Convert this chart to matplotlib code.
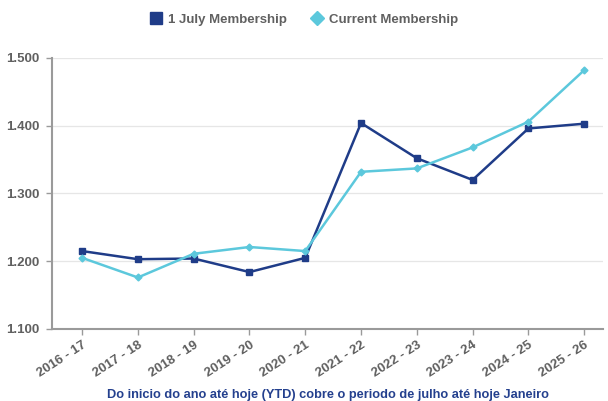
import matplotlib
matplotlib.use("Agg")
import matplotlib.pyplot as plt
from matplotlib.ticker import FuncFormatter

seasons = ["2016 - 17", "2017 - 18", "2018 - 19", "2019 - 20", "2020 - 21",
           "2021 - 22", "2022 - 23", "2023 - 24", "2024 - 25", "2025 - 26"]
july_membership = [1.215, 1.203, 1.204, 1.184, 1.205, 1.404, 1.352, 1.320, 1.396, 1.403]
current_membership = [1.205, 1.176, 1.211, 1.221, 1.215, 1.332, 1.337, 1.368, 1.406, 1.482]
y_ticks = [1.1, 1.2, 1.3, 1.4, 1.5]

plt.rcParams['font.family'] = ['Liberation Sans', 'DejaVu Sans']

navy = "#1f3c88"
cyan = "#5cc8dc"
gray_text = "#606060"

fig = plt.figure(figsize=(6.08, 4.01), dpi=100)
ax = fig.add_axes([0.0855, 0.1796, 0.9065, 0.6758])

x = list(range(len(seasons)))
ax.plot(x, july_membership, color=navy, lw=1.8, marker='s', ms=5,
        label="1 July Membership", zorder=3)
ax.plot(x, current_membership, color=cyan, lw=1.8, marker='D', ms=3.5,
        label="Current Membership", zorder=4)

ax.set_xlim(-0.54, 9.34)
ax.set_ylim(1.1, 1.5)
ax.set_yticks(y_ticks)
ax.yaxis.set_major_formatter(FuncFormatter(lambda v, p: f"{v:.3f}"))
ax.set_xticks(x)
ax.set_xticklabels(seasons, rotation=33, ha='right', rotation_mode='anchor')

for lab in ax.get_xticklabels() + ax.get_yticklabels():
    lab.set_color(gray_text)
    lab.set_fontsize(9.5)
    lab.set_fontweight('bold')

ax.grid(axis='y', color="#e6e6e6", lw=0.9)
ax.set_axisbelow(True)
for s in ['top', 'right']:
    ax.spines[s].set_visible(False)
ax.spines['left'].set_color("#9a9a9a")
ax.spines['left'].set_linewidth(1.5)
ax.spines['bottom'].set_color("#9a9a9a")
ax.spines['bottom'].set_linewidth(1.5)
ax.tick_params(axis='both', colors="#9a9a9a", length=4, width=1)
ax.tick_params(axis='x', pad=3)
ax.tick_params(axis='y', pad=5)
for lab in ax.get_xticklabels() + ax.get_yticklabels():
    lab.set_color(gray_text)

ax.set_xlabel("Do inicio do ano até hoje (YTD) cobre o periodo de julho até hoje Janeiro",
              color="#24408e", fontsize=9.2, fontweight='bold', labelpad=7)

leg = fig.legend(loc='upper center', bbox_to_anchor=(0.5, 0.995), ncol=2, frameon=False,
                 fontsize=9.5, handlelength=0.9, columnspacing=1.8, handletextpad=0.5)
for h, ms in zip(leg.legend_handles, [9, 7]):
    h.set_linestyle('none')
    h.set_markersize(ms)
for t in leg.get_texts():
    t.set_color(gray_text)
    t.set_fontweight('bold')

fig.savefig("out.png", dpi=100, facecolor='white')
